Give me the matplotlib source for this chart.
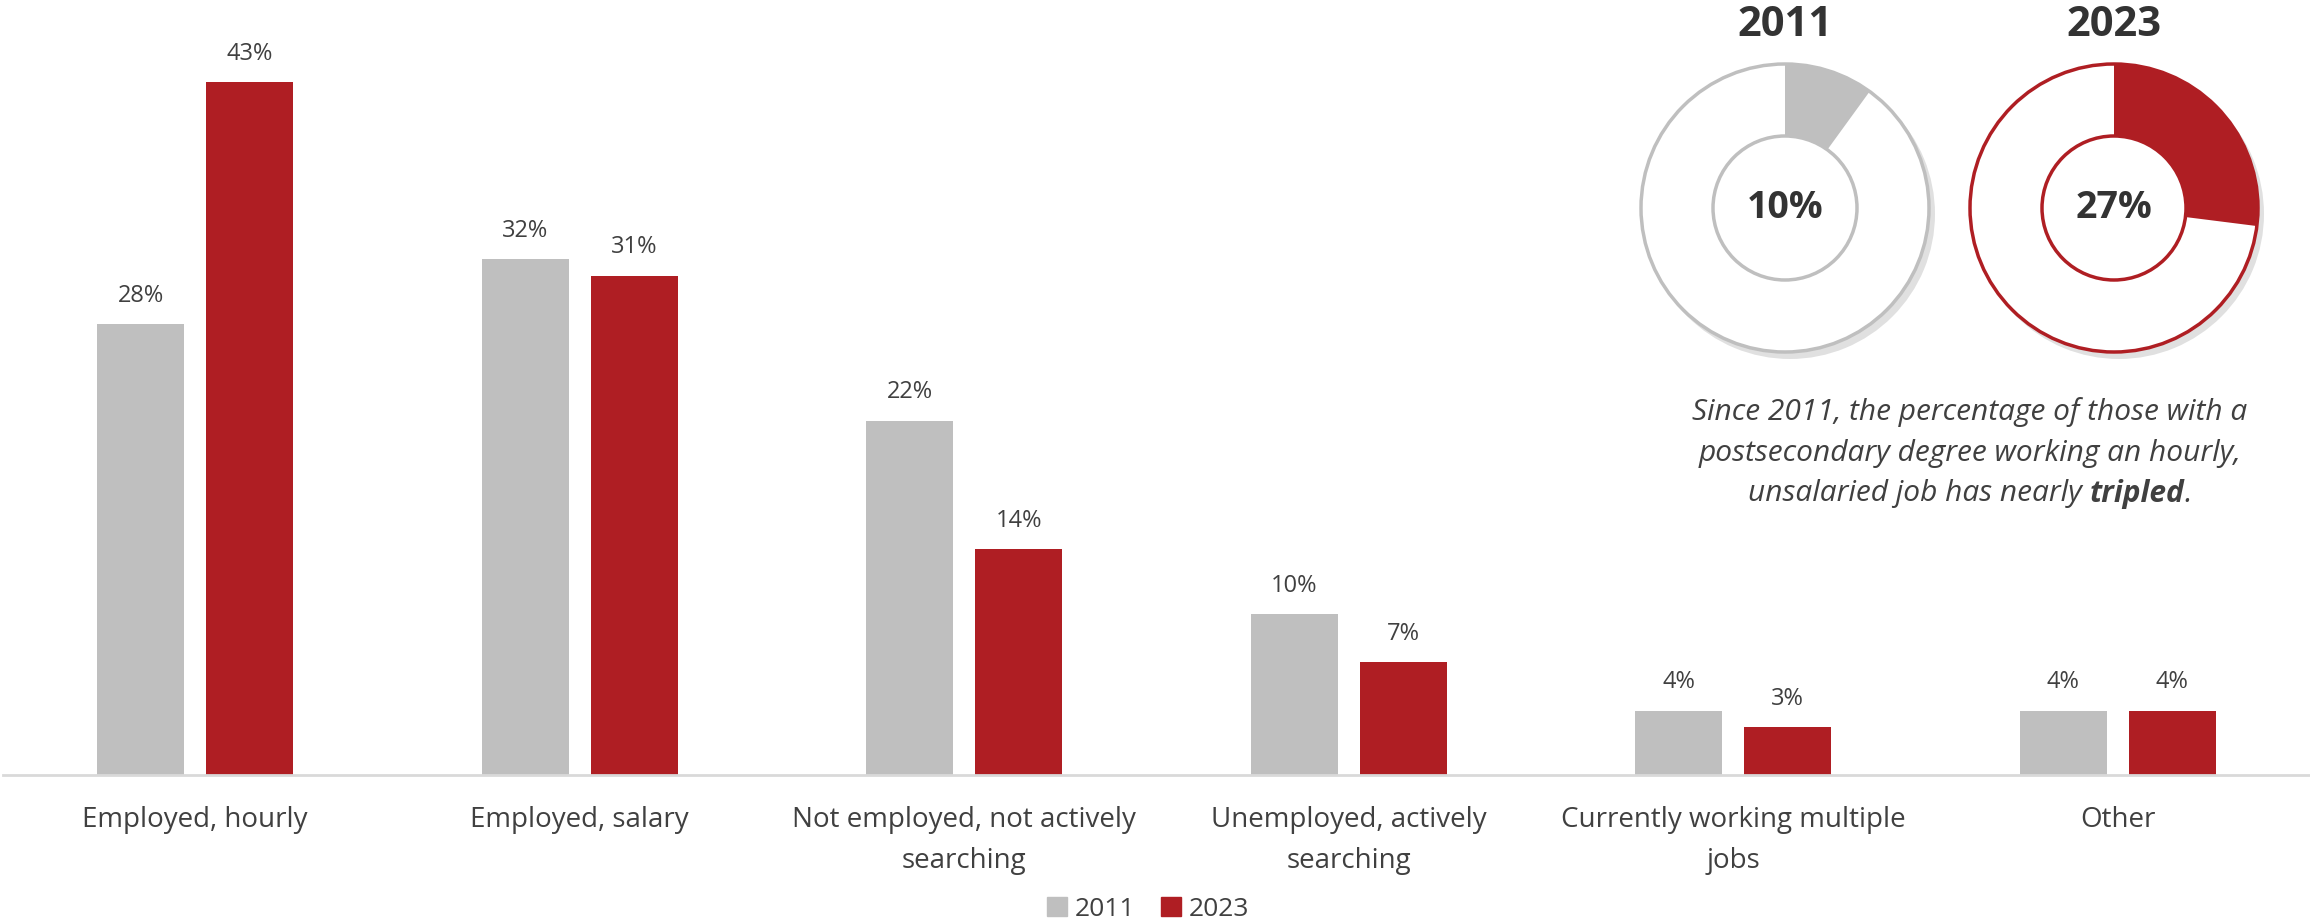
import matplotlib
matplotlib.use('Agg')
import matplotlib.pyplot as plt
import numpy as np
from matplotlib.patches import Wedge, Circle, Patch

plt.rcParams['font.family'] = ['Open Sans', 'DejaVu Sans']

categories = ['Employed, hourly', 'Employed, salary', 'Not employed, not actively\nsearching',
              'Unemployed, actively\nsearching', 'Currently working multiple\njobs', 'Other']
vals_2011 = [28, 32, 22, 10, 4, 4]
vals_2023 = [43, 31, 14, 7, 3, 4]
years = ['2011', '2023']
hourly_share = [10, 27]
note_lines = ['Since 2011, the percentage of those with a',
              'postsecondary degree working an hourly,']
note_last = [('unsalaried job has nearly ', 'normal'), ('tripled', 'bold'), ('.', 'normal')]

grey = '#bfbfbf'
red = '#af1e23'
txt = '#404040'

fig = plt.figure(figsize=(23.1, 9.19), dpi=100)
ax = fig.add_axes([3 / 2310, 1 - 775 / 919, 2307 / 2310, 775 / 919])

x = np.arange(len(categories))
w = 0.226
off = 0.142
b1 = ax.bar(x - off, vals_2011, w, color=grey, label='2011')
b2 = ax.bar(x + off, vals_2023, w, color=red, label='2023')
for bars in (b1, b2):
    for r in bars:
        ax.text(r.get_x() + r.get_width() / 2, r.get_height() + 1.0, '%d%%' % r.get_height(),
                ha='center', va='bottom', fontsize=17, color=txt)

ax.set_xlim(-0.5, 5.5)
ax.set_ylim(0, 48.1)
for s in ['top', 'right', 'left']:
    ax.spines[s].set_visible(False)
ax.spines['bottom'].set_color('#d9d9d9')
ax.spines['bottom'].set_linewidth(2)
ax.set_yticks([])
ax.set_xticks(x)
ax.set_xticklabels(categories, fontsize=20, color=txt, linespacing=1.65)
ax.tick_params(axis='x', length=0, pad=22)

fig.legend(handles=[Patch(color=grey, label='2011'), Patch(color=red, label='2023')],
           loc='lower center', bbox_to_anchor=(0.497, -0.029), ncol=2, frameon=False,
           fontsize=19, handlelength=0.75, handleheight=0.75, handletextpad=0.3,
           columnspacing=1.0, labelcolor=txt)

# donuts drawn in a pixel-space overlay
ov = fig.add_axes([0, 0, 1, 1], facecolor='none')
ov.set_xlim(0, 2310)
ov.set_ylim(919, 0)
ov.axis('off')

centers = [(1785, 208), (2114, 208)]
ro, ri = 144, 72
for (cx, cy), yr, pct, col in zip(centers, years, hourly_share, [grey, red]):
    ov.add_patch(Wedge((cx + 5, cy + 6), ro + 1, 0, 360, width=ro - ri, color='#000000', alpha=0.12, lw=0))
    ov.add_patch(Circle((cx, cy), ro, facecolor='white', edgecolor='none'))
    ov.add_patch(Wedge((cx, cy), ro, -90, -90 + 360 * pct / 100, width=ro - ri, facecolor=col, edgecolor='none'))
    ov.add_patch(Circle((cx, cy), ro, facecolor='none', edgecolor=col, lw=2.5))
    ov.add_patch(Circle((cx, cy), ri, facecolor='white', edgecolor=col, lw=2.5))
    ov.text(cx, cy, '%d%%' % pct, ha='center', va='center', fontsize=27, fontweight='bold', color='#333333')
    ov.text(cx, 25, yr, ha='center', va='center', fontsize=30, fontweight='bold', color='#333333')

note_x = 1970
fs_note = 21.5
for i, line in enumerate(note_lines):
    ov.text(note_x, 412 + 41 * i, line, ha='center', va='center', fontsize=fs_note, style='italic', color=txt)

fig.canvas.draw()
rend = fig.canvas.get_renderer()
parts = []
total = 0
for s, wt in note_last:
    t = ov.text(0, 494, s, ha='left', va='center', fontsize=fs_note, style='italic', fontweight=wt, color=txt)
    bb = t.get_window_extent(rend)
    parts.append((t, bb.width))
    total += bb.width
xpos = note_x - total / 2
for t, wd in parts:
    t.set_x(xpos)
    xpos += wd

fig.savefig('out.png', dpi=100)
